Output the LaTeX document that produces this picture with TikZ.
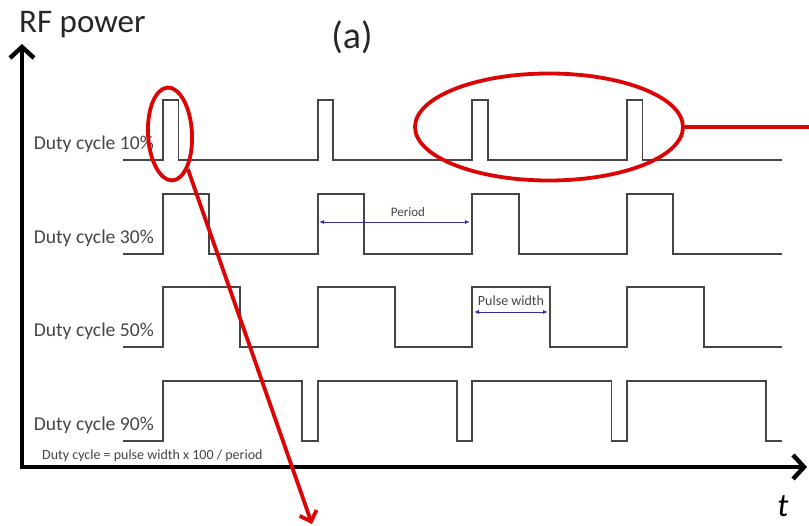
\documentclass[tikz,border=0pt]{standalone}
\usepackage{fontspec}
\setmainfont{Carlito}
\usetikzlibrary{arrows.meta,shapes.geometric}
\definecolor{myred}{rgb}{0.86,0.02,0.02}
\definecolor{myblue}{rgb}{0.18,0.18,0.62}
\definecolor{mygray}{rgb}{0.27,0.27,0.27}

\begin{document}
\begin{tikzpicture}[x=1pt,y=-1pt,
  wave/.style={mygray,line width=1.9pt},
  axis/.style={line width=4.4pt,-{Straight Barb[length=11pt,width=24pt]}},
  dclabel/.style={font=\fontsize{19.6}{21}\selectfont,text=mygray,anchor=base east,inner sep=0pt},
  small/.style={font=\fontsize{14}{15}\selectfont,text=mygray,inner sep=0pt},
  dimline/.style={myblue,line width=0.9pt,{Latex[length=5pt,width=4pt]}-{Latex[length=5pt,width=4pt]}},
  hilite/.style={ellipse,draw=myred,line width=3.8pt,inner sep=0pt}]
  \useasboundingbox (0,0) rectangle (809,526);

  \coordinate (origin) at (22,467);
  \coordinate (ytip) at (22,44);
  \coordinate (xtip) at (807,467);
  \draw[axis] (22,469) -- (ytip);
  \draw[axis] (20,467) -- (xtip);
    \node[font=\fontsize{33}{33}\selectfont,text=black!85,anchor=base west,inner sep=0pt] (ylab) at (19,33) {RF power};
    \node[font=\fontsize{33}{33}\selectfont\itshape,anchor=base,inner sep=0pt] (xlab) at (783,516) {t};
    \node[font=\fontsize{38}{38}\selectfont,text=black!85,inner sep=0pt] (title) at (352,37) {(a)};

  \foreach \dc/\yb in {10/160,30/254,50/347,90/441} {
    \pgfmathsetmacro{\pw}{\dc*1.5467}
    \draw[wave] (123,\yb) \foreach \k in {0,...,3} {
      -- ({163+\k*154.67},\yb) -- ++(0,-60) -- ++(\pw,0) -- ++(0,60)} -- (782,\yb);
    \node[dclabel] (lab\dc) at (154,\yb-10) {Duty cycle \dc\%};}

  \coordinate (per-a) at (319,222);
  \coordinate (per-b) at (470,222);
  \draw[dimline] (per-a) -- (per-b);
    \node[small,font=\fontsize{13}{14}\selectfont] (perlab) at (408,212) {Period};
  \coordinate (pw-a) at (474,312);
  \coordinate (pw-b) at (548,312);
  \draw[dimline] (pw-a) -- (pw-b);
    \node[small] (pwlab) at (511,301) {Pulse width};
  \node[small,anchor=base west] (formula) at (42,460) {Duty cycle = pulse width x 100 / period};

  \node[hilite,minimum width=44pt,minimum height=93pt,rotate=3] (zoomA) at (170,134) {};
  \node[hilite,minimum width=268pt,minimum height=107pt] (zoomB) at (549,127) {};
  \coordinate (outA) at (312,524);
  \coordinate (outB) at (809,127);
  \draw[myred,line width=3.8pt,-{Straight Barb[length=9pt,width=18pt]}] (zoomA.-66) -- (outA);
  \draw[myred,line width=3.8pt] (zoomB.east) -- (outB);
\end{tikzpicture}
\end{document}
